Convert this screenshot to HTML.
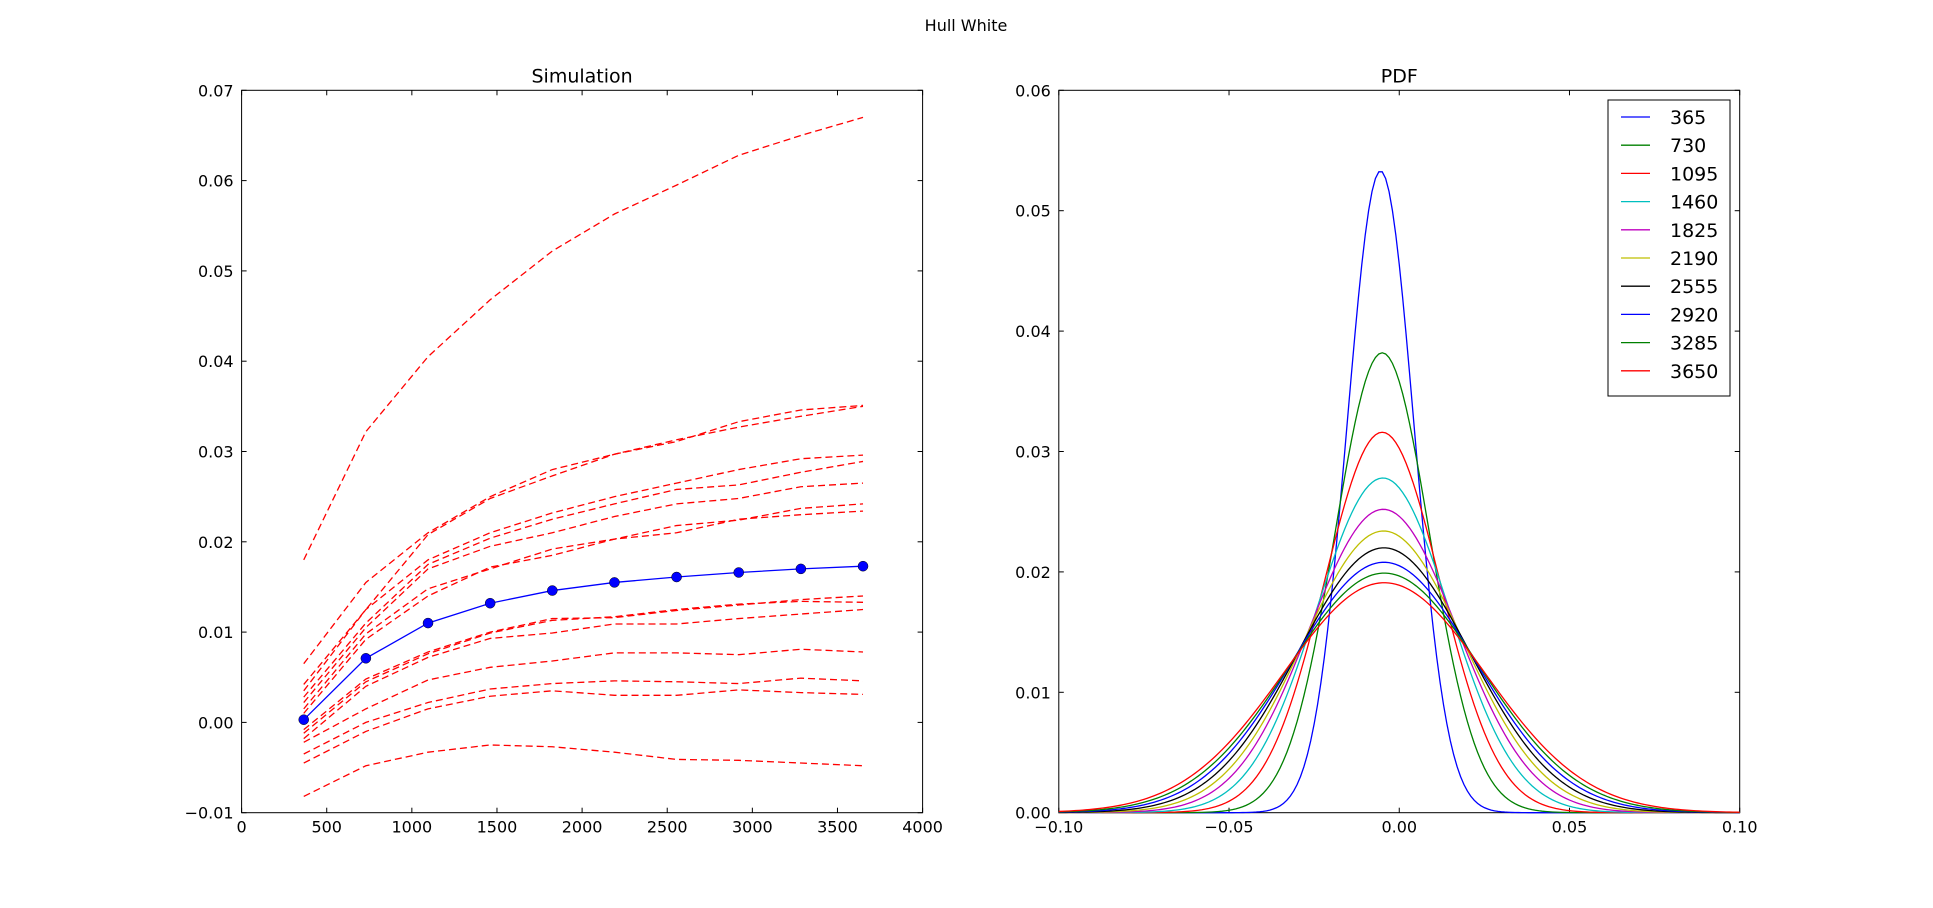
<!DOCTYPE html>
<html><head><meta charset="utf-8"><style>
body{margin:0;background:#fff;}
svg text{font-family:"DejaVu Sans","Liberation Sans",sans-serif;}
</style></head><body>
<svg id="fig" width="1933" height="903" xmlns="http://www.w3.org/2000/svg">
<rect width="1933" height="903" fill="#fff"/>
<text x="966" y="31" font-size="16" text-anchor="middle">Hull White</text>
<g id="left"></g>
<g id="right"></g>
</svg>
<script>
const days=[365,730,1095,1460,1825,2190,2555,2920,3285,3650];
const meanPath=[0.0003,0.0071,0.011,0.0132,0.0146,0.0155,0.0161,0.0166,0.017,0.0173];
const path1=[0.018,0.0322,0.0405,0.0468,0.0522,0.0563,0.0595,0.0628,0.065,0.067];
const path2=[0.0065,0.0155,0.021,0.025,0.028,0.0297,0.0311,0.0333,0.0346,0.0351];
const path3=[0.0042,0.0125,0.0208,0.0248,0.0273,0.0297,0.0313,0.0327,0.0339,0.035];
const path4=[0.0035,0.0125,0.018,0.021,0.0232,0.025,0.0265,0.028,0.0292,0.0296];
const path5=[0.0028,0.011,0.0175,0.0204,0.0225,0.0242,0.0258,0.0263,0.0277,0.0289];
const path6=[0.0022,0.0105,0.017,0.0195,0.021,0.0228,0.0242,0.0248,0.0261,0.0265];
const path7=[0.0015,0.0098,0.0148,0.017,0.0192,0.0203,0.0218,0.0224,0.0237,0.0242];
const path8=[0.001,0.0092,0.014,0.0172,0.0185,0.0203,0.021,0.0225,0.023,0.0234];
const path9=[-0.0008,0.0048,0.0078,0.01,0.0115,0.0116,0.0124,0.013,0.0136,0.014];
const path10=[-0.0012,0.0045,0.0076,0.0099,0.0113,0.0117,0.0125,0.0131,0.0134,0.0133];
const path11=[-0.0018,0.004,0.0072,0.0093,0.0099,0.0109,0.0109,0.0115,0.012,0.0125];
const path12=[-0.0022,0.0015,0.0047,0.0061,0.0068,0.0077,0.0077,0.0075,0.0081,0.0078];
const path13=[-0.0035,0.0,0.0022,0.0037,0.0043,0.0046,0.0045,0.0043,0.0049,0.0046];
const path14=[-0.0045,-0.001,0.0015,0.0029,0.0035,0.003,0.003,0.0036,0.0033,0.0031];
const path15=[-0.0082,-0.0048,-0.0033,-0.0025,-0.0027,-0.0033,-0.0041,-0.0042,-0.0045,-0.0048];
const paths=[path1,path2,path3,path4,path5,path6,path7,path8,path9,path10,path11,path12,path13,path14,path15];
const leftXTicks=[0,500,1000,1500,2000,2500,3000,3500,4000];
const leftYTicks=[-0.01,0.0,0.01,0.02,0.03,0.04,0.05,0.06,0.07];
const leftYLabels=["\u22120.01","0.00","0.01","0.02","0.03","0.04","0.05","0.06","0.07"];
const pdfLabels=["365","730","1095","1460","1825","2190","2555","2920","3285","3650"];
const pdfPeaks=[0.0533,0.0382,0.0316,0.0278,0.0252,0.0234,0.0220,0.0208,0.0199,0.0191];
const pdfMeans=[-0.0055,-0.005,-0.005,-0.0048,-0.0047,-0.0046,-0.0045,-0.0045,-0.0044,-0.0044];
const pdfSigmas=[0.0098,0.0139,0.0170,0.0195,0.0217,0.0235,0.0252,0.0268,0.0282,0.0296];
const pdfColors=["#0000ff","#008000","#ff0000","#00bfbf","#bf00bf","#bfbf00","#000000","#0000ff","#008000","#ff0000"];
const rightXTicks=[-0.1,-0.05,0,0.05,0.1];
const rightXLabels=["\u22120.10","\u22120.05","0.00","0.05","0.10"];
const rightYTicks=[0,0.01,0.02,0.03,0.04,0.05,0.06];
const rightYLabels=["0.00","0.01","0.02","0.03","0.04","0.05","0.06"];

const NS="http://www.w3.org/2000/svg";
function mk(parent,tag,attrs){const e=document.createElementNS(NS,tag);for(const k in attrs)e.setAttribute(k,attrs[k]);parent.appendChild(e);return e;}
const T=90.3,B=812.7;
function axes(g,L,R,xmin,xmax,ymin,ymax,title,xt,xl,yt,yl){
  const sx=v=>L+(v-xmin)/(xmax-xmin)*(R-L), sy=v=>B-(v-ymin)/(ymax-ymin)*(B-T);
  const t=mk(g,'text',{x:(L+R)/2,y:T-8,'font-size':19,'text-anchor':'middle'});t.textContent=title;
  
  
  xt.forEach((v,i)=>{const x=sx(v);
    mk(g,'line',{x1:x,x2:x,y1:B,y2:B-5,stroke:'#000'});mk(g,'line',{x1:x,x2:x,y1:T,y2:T+5,stroke:'#000'});
    const tx=mk(g,'text',{x:x,y:B+20,'font-size':16,'text-anchor':'middle'});tx.textContent=xl[i];
    
    });
  yt.forEach((v,i)=>{const y=sy(v);
    mk(g,'line',{x1:L,x2:L+5,y1:y,y2:y,stroke:'#000'});mk(g,'line',{x1:R,x2:R-5,y1:y,y2:y,stroke:'#000'});
    const ty=mk(g,'text',{x:L-8,y:y+6,'font-size':16,'text-anchor':'end'});ty.textContent=yl[i];
    
    });
  const f=mk(g,'rect',{x:L,y:T,width:R-L,height:B-T,fill:'none',stroke:'#000','stroke-width':1});
  
  
  return [sx,sy];
}
const gl=document.getElementById('left');
const [lx,ly]=axes(gl,241.6,922.6,0,4000,-0.01,0.07,'Simulation',leftXTicks,leftXTicks.map(String),leftYTicks,leftYLabels);
paths.forEach(p=>{
  const pl=mk(gl,'polyline',{points:p.map((v,i)=>lx(days[i])+','+ly(v)).join(' '),fill:'none',stroke:'#ff0000','stroke-width':1.3,'stroke-dasharray':'7,4'});
  
  
});
const ml=mk(gl,'polyline',{points:meanPath.map((v,i)=>lx(days[i])+','+ly(v)).join(' '),fill:'none',stroke:'#0000ff','stroke-width':1.3});


meanPath.forEach((v,i)=>{
  const c=mk(gl,'circle',{cx:lx(days[i]),cy:ly(v),r:5,fill:'#0000ff',stroke:'#000','stroke-width':0.5});
  
  
});
const gr=document.getElementById('right');
const [rx,ry]=axes(gr,1058.8,1739.7,-0.1,0.1,0,0.06,'PDF',rightXTicks,rightXLabels,rightYTicks,rightYLabels);
pdfPeaks.forEach((pk,k)=>{
  const pts=[];
  for(let i=0;i<=200;i++){const x=-0.1+i*0.001;const y=pk*Math.exp(-Math.pow(x-pdfMeans[k],2)/(2*pdfSigmas[k]*pdfSigmas[k]));pts.push(rx(x)+','+ry(y));}
  const pl=mk(gr,'polyline',{points:pts.join(' '),fill:'none',stroke:pdfColors[k],'stroke-width':1.3});
  
  
});
const lg=mk(gr,'g',{});


mk(lg,'rect',{x:1608,y:100,width:122,height:296,fill:'#fff',stroke:'#000'});
pdfLabels.forEach((s,k)=>{
  const y=117+k*28.2;
  const ln=mk(lg,'line',{x1:1621,x2:1650,y1:y,y2:y,stroke:pdfColors[k],'stroke-width':1.3});
  
  
  const t=mk(lg,'text',{x:1670,y:y+7,'font-size':19,'text-anchor':'start'});t.textContent=s;
  
  
});
</script>
</body></html>
